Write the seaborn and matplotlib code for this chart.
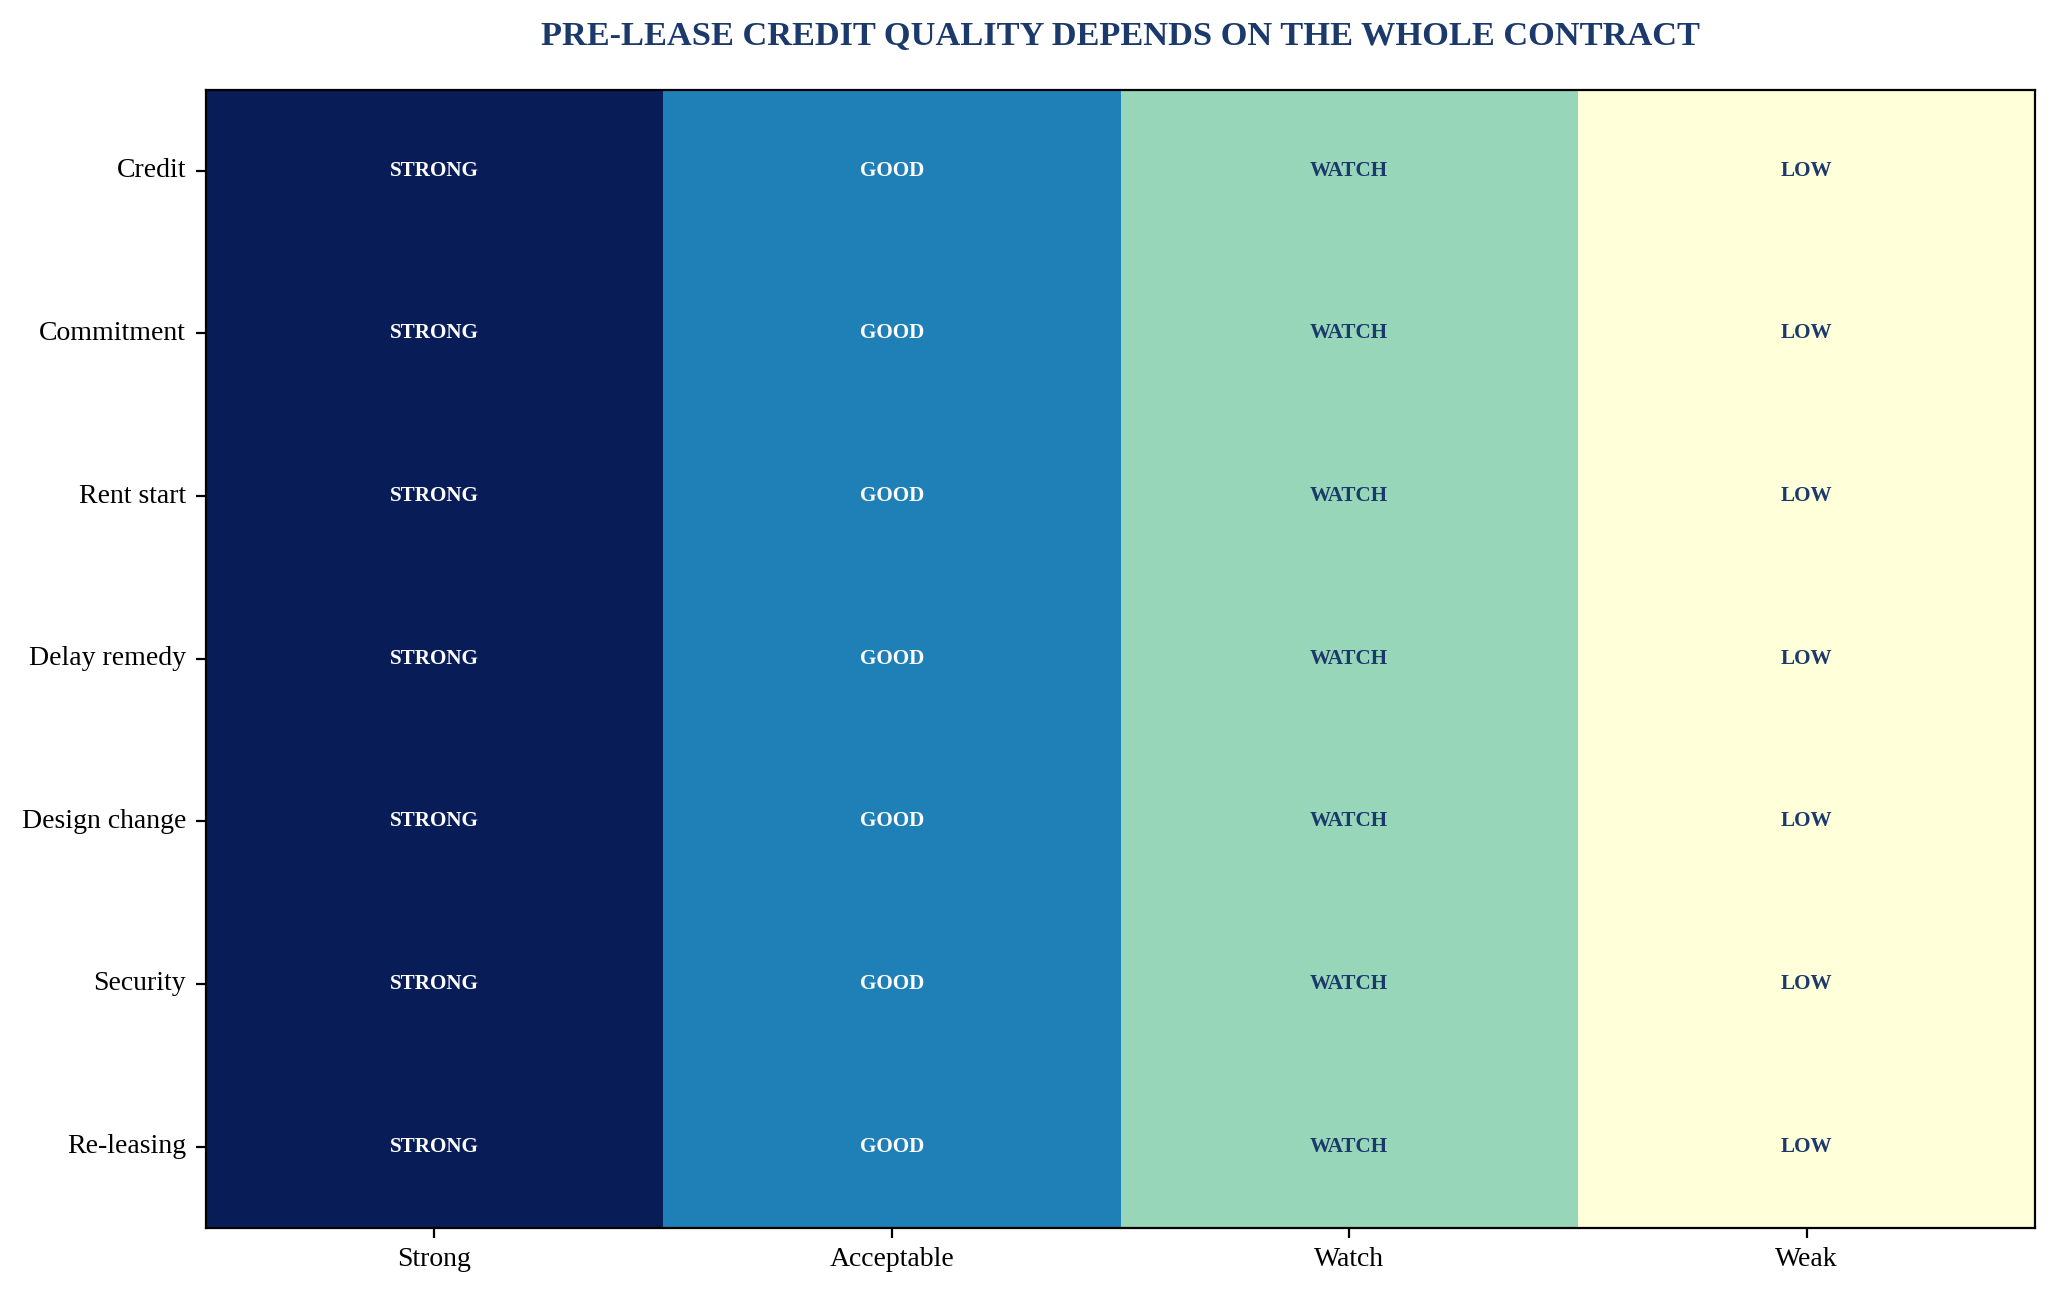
import matplotlib
matplotlib.use('Agg')
import matplotlib.pyplot as plt
import numpy as np
import pandas as pd
import seaborn as sns

# Data
rows = ['Credit', 'Commitment', 'Rent start', 'Delay remedy', 'Design change', 'Security', 'Re-leasing']
cols = ['Strong', 'Acceptable', 'Watch', 'Weak']
scores = [3, 2, 1, 0]
labels = ['STRONG', 'GOOD', 'WATCH', 'LOW']

df = pd.DataFrame([scores] * len(rows), index=rows, columns=cols)
annot = np.array([labels] * len(rows))

sns.set_style('white')
plt.rcParams['font.family'] = ['Liberation Serif', 'DejaVu Serif']

navy = '#1b3a6b'

fig, ax = plt.subplots(figsize=(10.28, 6.49), dpi=200)
fig.subplots_adjust(left=0.100, right=0.990, top=0.931, bottom=0.054)

sns.heatmap(df, ax=ax, cmap='YlGnBu', vmin=0, vmax=3, cbar=False,
            annot=annot, fmt='', annot_kws={'fontsize': 7.6, 'fontweight': 'bold'})

# text colour by cell shade
for t, s in zip(ax.texts, np.array([scores] * len(rows)).ravel()):
    t.set_color('white' if s >= 2 else navy)

ax.set_title('PRE-LEASE CREDIT QUALITY DEPENDS ON THE WHOLE CONTRACT',
             fontsize=12.4, fontweight='bold', color=navy, pad=16)
ax.set_xlabel('')
ax.set_ylabel('')
ax.tick_params(axis='both', bottom=True, left=True, length=3.5, width=0.8,
               labelsize=10, colors='black')
ax.tick_params(axis='y', rotation=0)
for sp in ax.spines.values():
    sp.set_visible(True)
    sp.set_color('black')
    sp.set_linewidth(0.8)

fig.savefig('out.png', dpi=200)
